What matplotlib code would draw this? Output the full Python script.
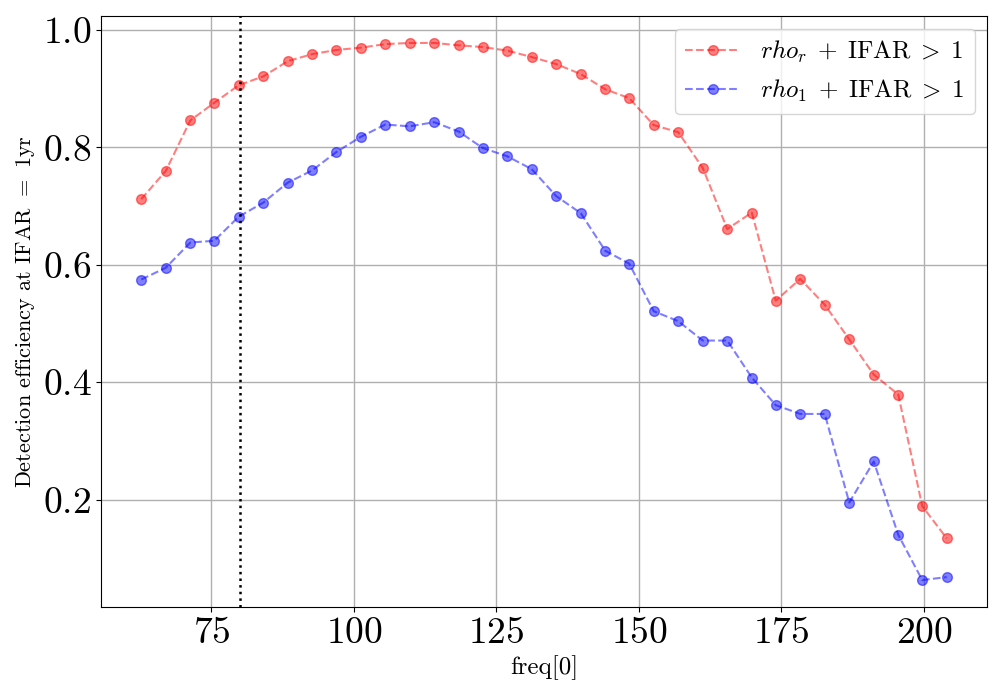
import matplotlib
matplotlib.use("Agg")
import matplotlib.pyplot as plt
from matplotlib.ticker import MultipleLocator

plt.rcParams['font.family'] = 'serif'
plt.rcParams['font.serif'] = ['cmr10']
plt.rcParams['mathtext.fontset'] = 'cm'
plt.rcParams['axes.formatter.use_mathtext'] = True

freq = [62.7, 67.0, 71.3, 75.5, 79.8, 84.1, 88.4, 92.7, 96.9, 101.2, 105.5, 109.8,
        114.1, 118.4, 122.6, 126.9, 131.2, 135.5, 139.8, 144.1, 148.3, 152.6, 156.9,
        161.2, 165.5, 169.8, 174.0, 178.3, 182.6, 186.9, 191.2, 195.5, 199.7, 204.0]
eff_rho_r = [0.712, 0.760, 0.846, 0.876, 0.906, 0.921, 0.947, 0.959, 0.966, 0.970,
             0.976, 0.978, 0.978, 0.974, 0.971, 0.965, 0.954, 0.942, 0.925, 0.899,
             0.884, 0.838, 0.826, 0.765, 0.661, 0.689, 0.539, 0.576, 0.532, 0.473,
             0.413, 0.379, 0.189, 0.134]
eff_rho_1 = [0.575, 0.595, 0.638, 0.641, 0.682, 0.706, 0.740, 0.761, 0.792, 0.818,
             0.839, 0.836, 0.843, 0.827, 0.799, 0.785, 0.763, 0.717, 0.688, 0.624,
             0.602, 0.521, 0.504, 0.471, 0.471, 0.408, 0.361, 0.346, 0.346, 0.195,
             0.265, 0.140, 0.063, 0.068]
vline_x = 80

fig, ax = plt.subplots(figsize=(10, 7), dpi=100)
ax.plot(freq, eff_rho_r, 'o--', color='red', alpha=0.5, markersize=7,
        label=r'$rho_r\;+\;\mathrm{IFAR}\;>\;1$')
ax.plot(freq, eff_rho_1, 'o--', color='blue', alpha=0.5, markersize=7,
        label=r'$rho_1\;+\;\mathrm{IFAR}\;>\;1$')
ax.axvline(vline_x, color='black', linestyle=':', linewidth=1.8)
ax.xaxis.set_major_locator(MultipleLocator(25))
ax.grid(True, color='#b0b0b0', linewidth=1)
ax.set_xlabel('freq[0]', fontsize=18)
ax.set_ylabel(r'Detection efficiency at IFAR $=$ 1yr', fontsize=16)
ax.tick_params(axis='both', labelsize=27)
ax.legend(fontsize=18, loc='upper right', handlelength=2.2)
fig.subplots_adjust(left=0.101, right=0.987, top=0.977, bottom=0.133)
fig.savefig('out.png')
